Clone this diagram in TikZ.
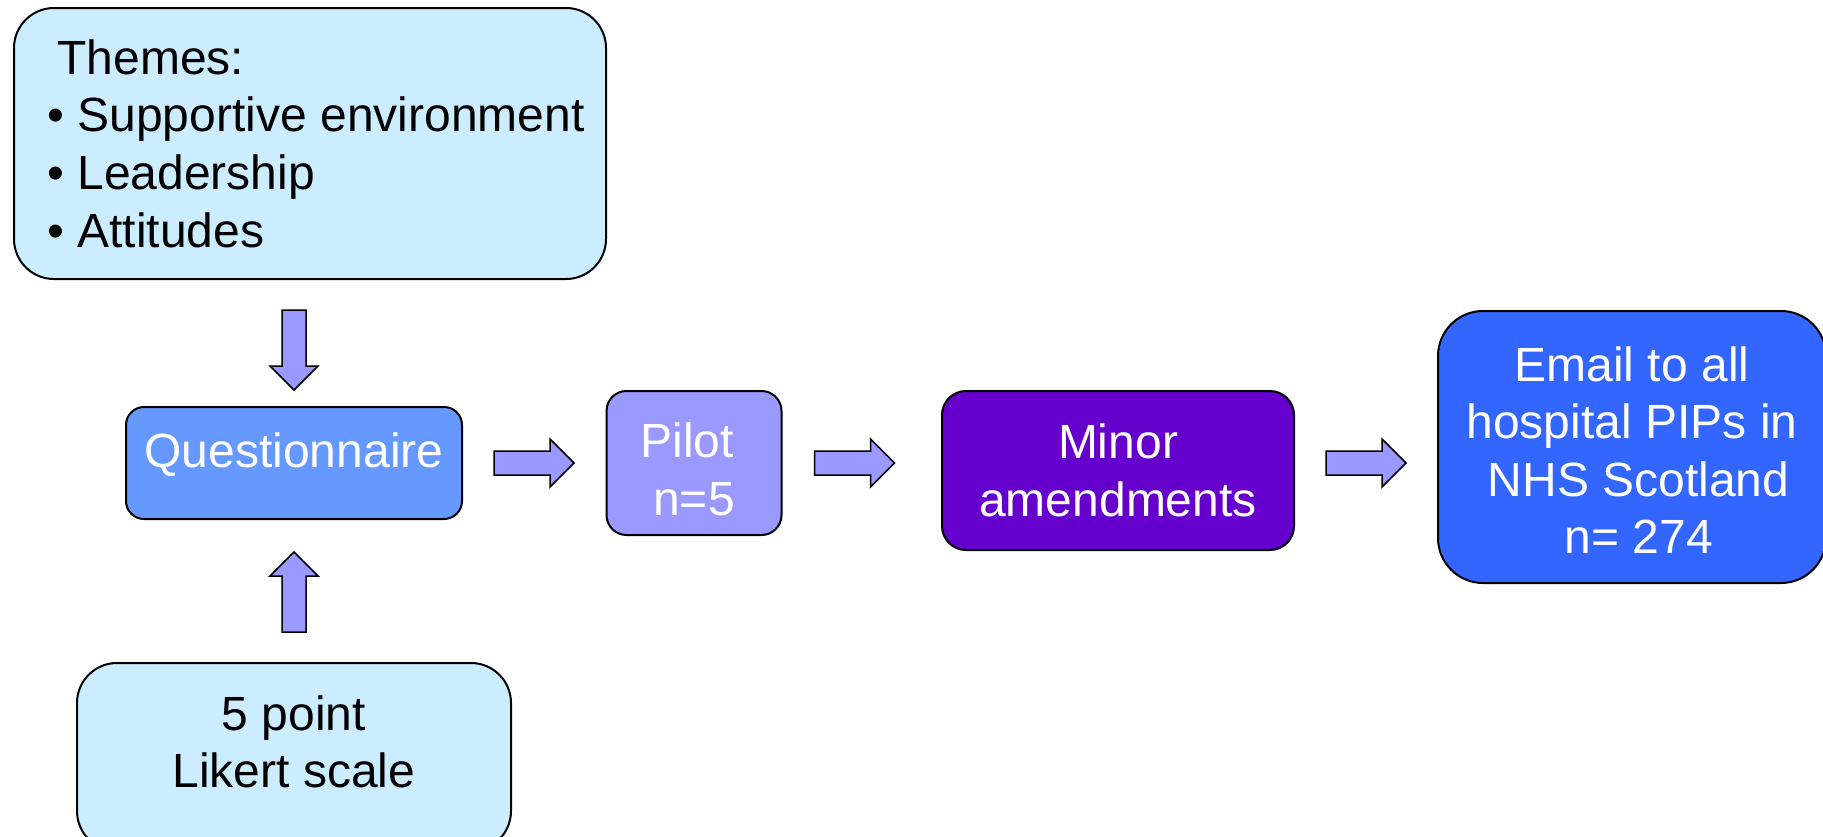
\documentclass[tikz,border=0pt]{standalone}
\usepackage{fontspec}
\setmainfont{Liberation Sans}
\usetikzlibrary{calc}

\definecolor{paleblue}{HTML}{CCECFF}
\definecolor{questblue}{HTML}{6699FF}
\definecolor{pilotblue}{HTML}{9999FF}
\definecolor{minorviolet}{HTML}{6600CC}
\definecolor{emailblue}{HTML}{3366FF}

\tikzset{
  stagebox/.style={rectangle, draw=black, line width=2pt, inner sep=0pt,
    font=\fontsize{48}{57.6}\selectfont, align=center},
  pics/blockarrow/.style={code={
    \filldraw[fill=pilotblue, draw=black, line width=1.5pt]
      (0,-12) -- (56,-12) -- (56,-24) -- (80,0) -- (56,24) -- (56,12) -- (0,12) -- cycle;
  }}
}

\begin{document}
\begin{tikzpicture}[x=1pt, y=-1pt]
  \useasboundingbox (0,0) rectangle (1823,836);

  \node[stagebox, fill=paleblue, rounded corners=40pt, align=left,
        minimum width=592pt, minimum height=271pt] (themes) at (310,143.5)
    {\hspace*{22pt}Themes:\\\hspace*{12pt}\textbullet{} Supportive environment\\\hspace*{12pt}\textbullet{} Leadership\\\hspace*{12pt}\textbullet{} Attitudes};

  \node[stagebox, fill=questblue, text=white, rounded corners=18pt,
        minimum width=336pt, minimum height=112pt, text depth=25pt] (quest) at (294,463) {Questionnaire};

  \node[stagebox, fill=paleblue, rounded corners=40pt,
        minimum width=434pt, minimum height=188pt] (likert) at (294,757)
    {5 point\\Likert scale\rule[-31pt]{0pt}{0pt}};

  \node[stagebox, fill=pilotblue, text=white, rounded corners=20pt,
        minimum width=175pt, minimum height=144pt] (pilot) at (694,463)
    {\rule{0pt}{47pt}Pilot\hphantom{\ }\\n=5};

  \node[stagebox, fill=minorviolet, text=white, rounded corners=24pt,
        minimum width=352pt, minimum height=159pt] (minor) at (1118,470.5)
    {Minor\\amendments};

  \node[stagebox, fill=emailblue, text=white, rounded corners=45pt,
        minimum width=388pt, minimum height=272pt] (email) at (1632,447)
    {\rule{0pt}{41pt}Email to all\\hospital PIPs in\\\hphantom{\ }NHS Scotland\\\hphantom{\ }n= 274};

  % block arrows between the stages
  \pic[rotate=-90] (toquest) at ($(quest.north)+(0,-96)$) {blockarrow};
  \pic[rotate=90] (fromlikert) at ($(quest.south)+(0,112)$) {blockarrow};
  \pic (topilot) at ($(quest.east)+(31,0)$) {blockarrow};
  \pic (tominor) at ($(pilot.east)+(32,0)$) {blockarrow};
  \pic (toemail) at ($(minor.east |- quest.east)+(31,0)$) {blockarrow};
\end{tikzpicture}
\end{document}
